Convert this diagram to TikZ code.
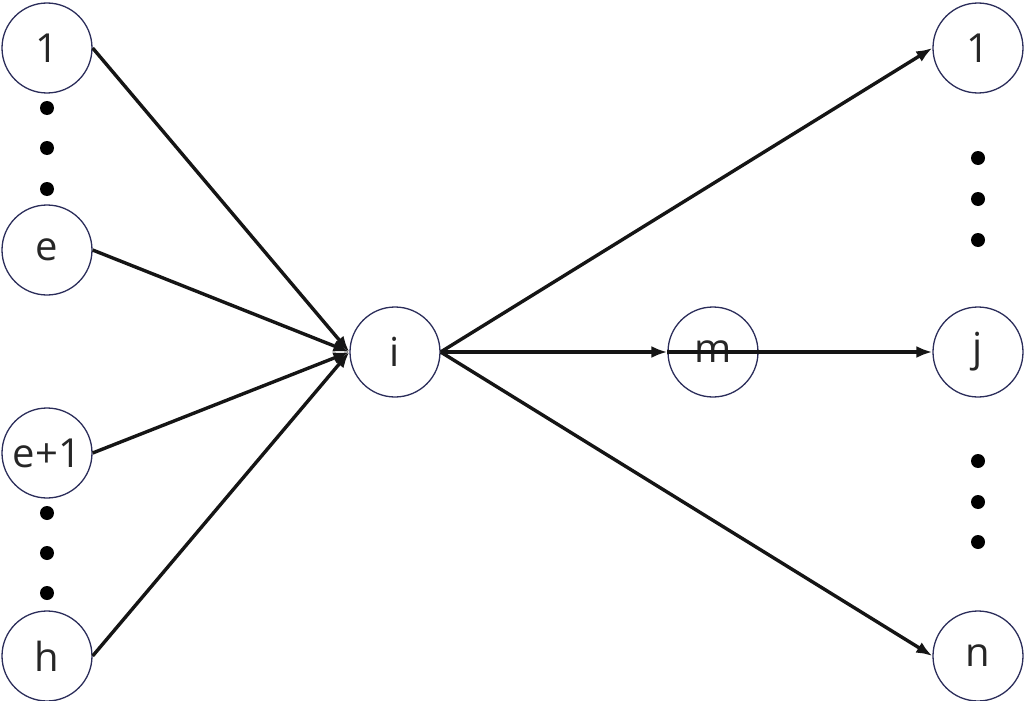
\documentclass[tikz,border=0pt]{standalone}
\usepackage{fontspec}
\setmainfont{Open Sans}
\usetikzlibrary{arrows.meta}
\definecolor{ringc}{HTML}{2B2D5A}
\definecolor{linec}{HTML}{151515}
\tikzset{
  vtx/.style={circle, draw=ringc, line width=1.3pt, minimum size=90pt, inner sep=0pt,
    font=\fontsize{40}{46}\selectfont, text=black!85},
  arr/.style={draw=linec, line width=3.4pt, -{Latex[length=16pt,width=12pt]}},
  dotc/.style={circle, fill=black, minimum size=14pt, inner sep=0pt}
}
\begin{document}
\begin{tikzpicture}[x=1pt,y=-1pt]
\useasboundingbox (0,0) rectangle (1026,701);
% left column
\node[vtx] (l1) at (47,48) {1};
\node[vtx] (le) at (47,250) {e};
\node[vtx] (le1) at (47,453) {e+1};
\node[vtx] (lh) at (47,656) {h};
% centre
\node[vtx] (i) at (395,352) {i};
\node[vtx] (m) at (713,352) {m};
% right column
\node[vtx] (r1) at (978,48) {1};
\node[vtx] (j) at (978,352) {j};
\node[vtx] (n) at (978,656) {n};
% dots
\foreach \k/\y in {a/108,b/148,c/189} \node[dotc] (dl\k) at (47,\y) {};
\foreach \k/\y in {a/513,b/553,c/593} \node[dotc] (dm\k) at (47,\y) {};
\foreach \k/\y in {a/158,b/199,c/240} \node[dotc] (dr\k) at (978,\y) {};
\foreach \k/\y in {a/461,b/502,c/542} \node[dotc] (ds\k) at (978,\y) {};
% arrows
\draw[arr] (l1.east) -- (i.west);
\draw[arr] (le.east) -- (i.west);
\draw[arr] (le1.east) -- (i.west);
\draw[arr] (lh.east) -- (i.west);
\draw[arr] (i.east) -- (r1.west);
\draw[arr] (i.east) -- (m.west);
\draw[arr] (m.west) -- (j.west);
\draw[arr] (i.east) -- (n.west);
\end{tikzpicture}
\end{document}
